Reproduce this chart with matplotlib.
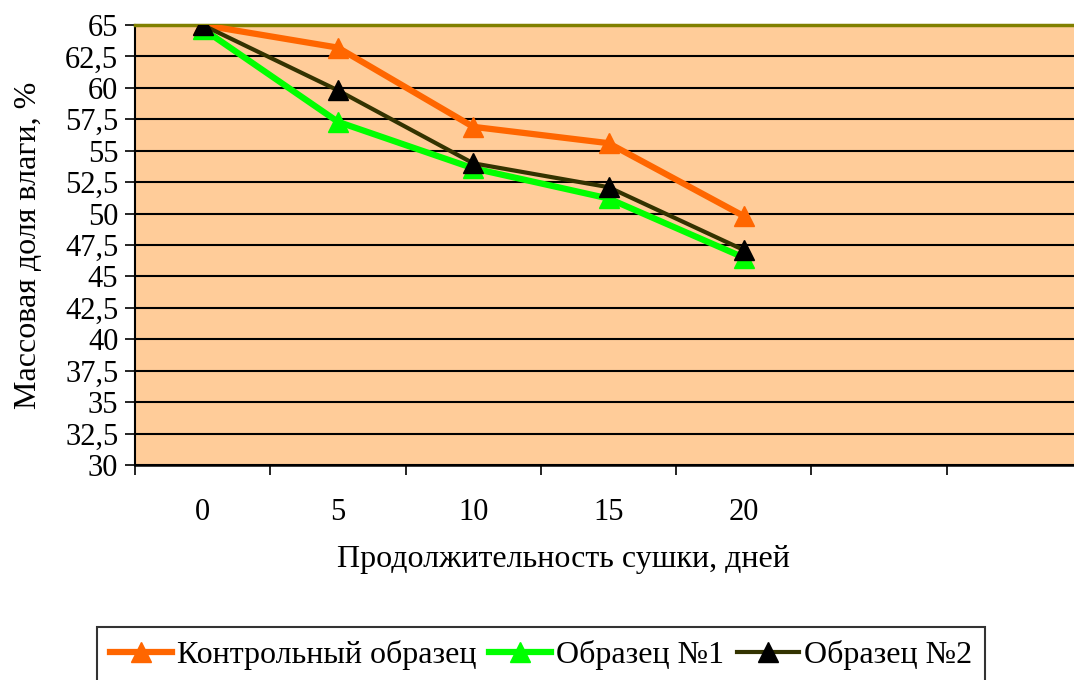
import numpy as np
import matplotlib
matplotlib.use("Agg")
import matplotlib.pyplot as plt

plt.rcParams['font.family'] = ['Liberation Serif', 'DejaVu Serif']

# drying time categories (two empty slots on the category axis)
days = ['0', '5', '10', '15', '20', '', '']
control = [65.0, 63.2, 56.9, 55.6, 49.8]
sample1 = [64.7, 57.3, 53.6, 51.2, 46.5]
sample2 = [65.0, 59.8, 54.0, 52.1, 47.1]

fig = plt.figure(figsize=(10.74, 6.8), dpi=100)
ax = fig.add_axes([135/1074, 1 - 465/680, 947/1074, 440/680])
ax.set_facecolor('#FFCC99')

x = np.arange(len(control))
ax.plot(x, control, color='#FF6600', lw=4.5, marker='^', ms=15,
        mfc='#FF6600', mec='#FF6600', label='Контрольный образец', zorder=3)
ax.plot(x, sample1, color='#00FF00', lw=4.5, marker='^', ms=15,
        mfc='#00FF00', mec='#00FF00', label='Образец №1', zorder=4)
ax.plot(x, sample2, color='#333300', lw=3, marker='^', ms=15,
        mfc='black', mec='black', label='Образец №2', zorder=5)

ax.set_xlim(-0.5, len(days) - 0.5)
ax.set_ylim(30, 65)
yt = np.arange(30, 65.1, 2.5)
ax.set_yticks(yt)
ax.set_yticklabels([('%g' % v).replace('.', ',') for v in yt])
ax.yaxis.grid(True, color='black', lw=1.5)
ax.set_axisbelow(True)

# category boundaries as ticks, labels in the middle of each slot
ax.set_xticks(np.arange(-0.5, len(days)))
ax.set_xticklabels([])
ax.set_xticks(np.arange(len(days)), minor=True)
ax.set_xticklabels(days, minor=True)
ax.tick_params(axis='x', which='major', direction='out', length=7, width=1.2)
ax.tick_params(axis='x', which='minor', length=0, pad=24, labelsize=22)
ax.tick_params(axis='y', direction='out', length=7, width=1.2, labelsize=22, pad=5)

ax.spines['left'].set_linewidth(1.5)
ax.spines['bottom'].set_linewidth(1.8)
ax.spines['right'].set_visible(False)
ax.spines['top'].set_color('#808000')
ax.spines['top'].set_linewidth(2.5)

ax.set_ylabel('Массовая доля влаги, %', fontsize=23)
ax.yaxis.set_label_coords(-92/947, 0.5)
fig.text(563/1074, 1 - 560/680, 'Продолжительность сушки, дней',
         fontsize=23, ha='center', va='center')

leg = fig.legend(loc='upper center', bbox_to_anchor=(541/1074, 1 - 627/680),
                 ncol=3, fontsize=23, frameon=True, fancybox=False,
                 handlelength=1.95, handletextpad=0.15, columnspacing=0.4,
                 borderpad=0.4, borderaxespad=0)
leg.get_frame().set_edgecolor('black')
leg.get_frame().set_linewidth(1.5)

fig.savefig('out.png', dpi=100)
